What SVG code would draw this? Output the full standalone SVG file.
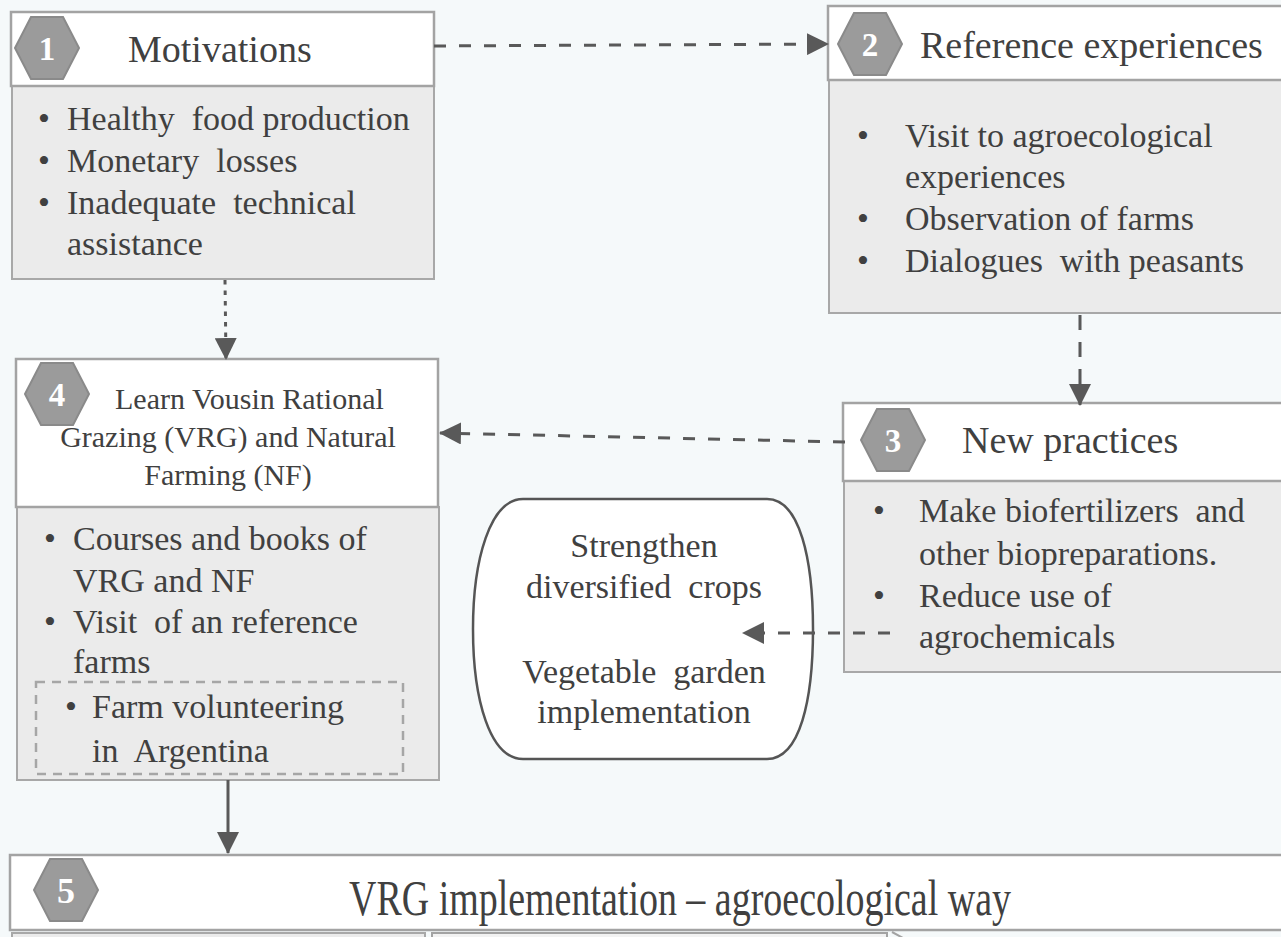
<svg xmlns="http://www.w3.org/2000/svg" width="1281" height="937" viewBox="0 0 1281 937">
<defs>
<style>
.hdr{fill:#ffffff;stroke:#a3a3a3;stroke-width:2.5}
.bdy{fill:#ebebeb;stroke:#a8a8a8;stroke-width:2}
.hex{fill:#9b9b9b;stroke:#8a8a8a;stroke-width:2}
.num{font-family:"Liberation Serif","Times New Roman",serif;font-size:33px;font-weight:bold;fill:#ffffff;text-anchor:middle}
.t{font-family:"Liberation Serif","Times New Roman",serif;fill:#404040;white-space:pre}
.h{font-size:38px}
.b{font-size:34px}
.s{font-size:30px}
.c{text-anchor:middle}
.conn{stroke:#595959;stroke-width:3;fill:none}
</style>
<polygon id="hexshape" points="-32,0 -16,-31 16,-31 32,0 16,31 -16,31"/>
<marker id="arr" markerUnits="userSpaceOnUse" markerWidth="22" markerHeight="22" refX="21" refY="11" orient="auto">
<path d="M0,0 L22,11 L0,22 Z" fill="#595959"/>
</marker>
</defs>
<rect x="0" y="0" width="1281" height="937" fill="#f5f9fa"/>

<g id="node1">
<rect class="bdy" x="12" y="86" width="422" height="193"/>
<rect class="hdr" x="11" y="12" width="423" height="74"/>
<use href="#hexshape" class="hex" x="47" y="48"/>
<text class="num" x="47" y="60">1</text>
<text class="t h" x="128" y="62">Motivations</text>
<text class="t b c" x="44" y="130">•</text>
<text class="t b" x="67" y="130">Healthy  food production</text>
<text class="t b c" x="44" y="172">•</text>
<text class="t b" x="67" y="172">Monetary  losses</text>
<text class="t b c" x="44" y="214">•</text>
<text class="t b" x="67" y="214">Inadequate  technical</text>
<text class="t b" x="67" y="255">assistance</text>
</g>

<g id="node2">
<rect class="bdy" x="829" y="80" width="470" height="233"/>
<rect class="hdr" x="828" y="6" width="470" height="74"/>
<use href="#hexshape" class="hex" x="870" y="44"/>
<text class="num" x="870" y="56">2</text>
<text class="t h" x="920" y="58">Reference experiences</text>
<text class="t b c" x="863" y="147">•</text>
<text class="t b" x="905" y="147">Visit to agroecological</text>
<text class="t b" x="905" y="188">experiences</text>
<text class="t b c" x="863" y="230">•</text>
<text class="t b" x="905" y="230">Observation of farms</text>
<text class="t b c" x="863" y="272">•</text>
<text class="t b" x="905" y="272">Dialogues  with peasants</text>
</g>

<g id="node3">
<rect class="bdy" x="844" y="481" width="460" height="191"/>
<rect class="hdr" x="843" y="403" width="460" height="78"/>
<use href="#hexshape" class="hex" x="893" y="440"/>
<text class="num" x="893" y="452">3</text>
<text class="t h" x="962" y="453">New practices</text>
<text class="t b c" x="879" y="522">•</text>
<text class="t b" x="919" y="522">Make biofertilizers  and</text>
<text class="t b" x="919" y="565">other biopreparations.</text>
<text class="t b c" x="879" y="607">•</text>
<text class="t b" x="919" y="607">Reduce use of</text>
<text class="t b" x="919" y="648">agrochemicals</text>
</g>

<g id="node4">
<rect class="bdy" x="17" y="507" width="422" height="273"/>
<rect class="hdr" x="16" y="359" width="422" height="148"/>
<use href="#hexshape" class="hex" x="57" y="394"/>
<text class="num" x="57" y="406">4</text>
<text class="t s" x="115" y="409">Learn Vousin Rational</text>
<text class="t s c" x="228" y="447">Grazing (VRG) and Natural</text>
<text class="t s c" x="228" y="485">Farming (NF)</text>
<text class="t b c" x="50" y="550">•</text>
<text class="t b" x="73" y="550">Courses and books of</text>
<text class="t b" x="73" y="592">VRG and NF</text>
<text class="t b c" x="50" y="633">•</text>
<text class="t b" x="73" y="633">Visit  of an reference</text>
<text class="t b" x="73" y="673">farms</text>
<rect x="36" y="682" width="367" height="92" fill="none" stroke="#a6a6a6" stroke-width="2.5" stroke-dasharray="9 7"/>
<text class="t b c" x="71" y="718">•</text>
<text class="t b" x="92" y="718">Farm volunteering</text>
<text class="t b" x="92" y="762">in  Argentina</text>
</g>

<g id="node-crops">
<path d="M523,499 L767,499 C800,499 813,560 813,629 C813,700 800,759 767,759 L523,759 C490,759 473,700 473,629 C473,560 490,499 523,499 Z" fill="#ffffff" stroke="#555555" stroke-width="2.5"/>
<text class="t b c" x="644" y="557">Strengthen</text>
<text class="t b c" x="644" y="598">diversified  crops</text>
<text class="t b c" x="644" y="683">Vegetable  garden</text>
<text class="t b c" x="644" y="723">implementation</text>
</g>

<g id="node5">
<rect class="hdr" x="10" y="855" width="1290" height="75"/>
<use href="#hexshape" class="hex" x="66" y="890"/>
<text class="num" x="66" y="903" style="font-size:36px">5</text>
<text class="t" x="349" y="915" style="font-size:50px" textLength="662" lengthAdjust="spacingAndGlyphs">VRG implementation – agroecological way</text>
</g>

<g id="node-bottom">
<rect x="12" y="933" width="413" height="10" fill="#ebebeb" stroke="#a8a8a8" stroke-width="2"/>
<rect x="432" y="933" width="455" height="10" fill="#f2f2f2" stroke="#a3a3a3" stroke-width="2"/>
<path d="M892,932 L903,938" stroke="#a3a3a3" stroke-width="2" fill="none"/>
</g>

<g id="connectors">
<path class="conn" d="M434,46 L828,44" stroke-dasharray="12 13" marker-end="url(#arr)"/>
<path class="conn" d="M225,280 L226,359" stroke-width="4.5" stroke-dasharray="4.5 6" marker-end="url(#arr)"/>
<path class="conn" d="M1080,315 L1080,405" stroke-dasharray="15 12" marker-end="url(#arr)"/>
<path class="conn" d="M845,442 L440,433" stroke-dasharray="12 13" marker-end="url(#arr)"/>
<path class="conn" d="M890,633 L743,633" stroke-dasharray="12 13" marker-end="url(#arr)"/>
<path class="conn" d="M228,780 L228,853" marker-end="url(#arr)"/>
</g>
</svg>
